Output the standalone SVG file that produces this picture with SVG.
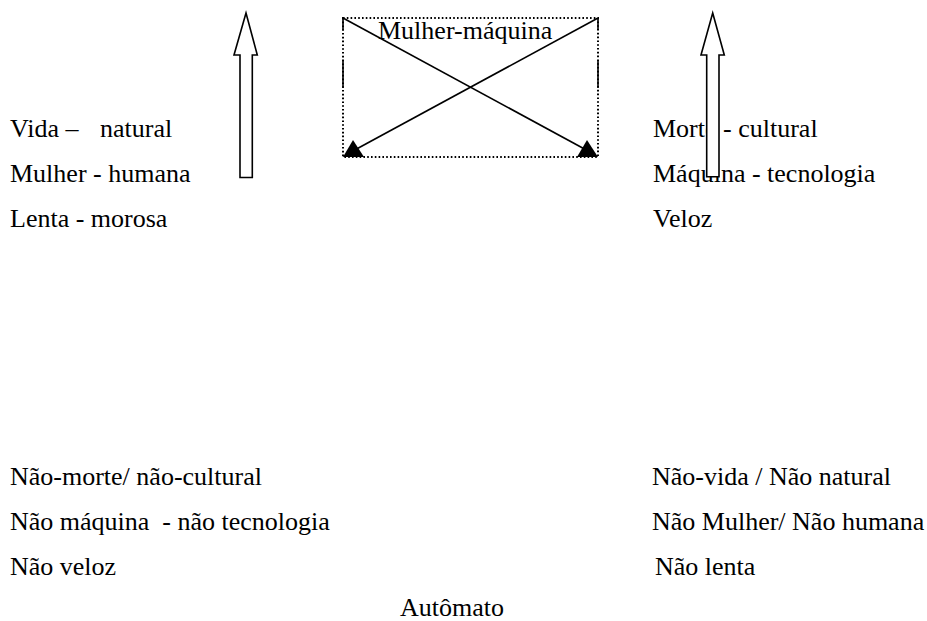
<svg xmlns="http://www.w3.org/2000/svg" width="927" height="621" viewBox="0 0 927 621">
<style>
text{font-family:"Liberation Serif","Times New Roman",serif;font-size:26px;fill:#000}
.arrow{fill:#fff;stroke:#000;stroke-width:1.6}
.dot{fill:none;stroke:#000;stroke-width:2;stroke-dasharray:1.6 2.2}
.ln{stroke:#000;stroke-width:1.6}
</style>
<rect width="927" height="621" fill="#fff"/>
<g id="left-top">
<text x="10" y="136.5">Vida –<tspan x="100">natural</tspan></text>
<text x="10" y="182">Mulher - humana</text>
<text x="10" y="227">Lenta - morosa</text>
</g>
<g id="right-top">
<text x="653" y="136.5">Morte - cultural</text>
<text x="653" y="182">Máquina - tecnologia</text>
<text x="653" y="227">Veloz</text>
</g>
<g id="left-bottom">
<text x="10" y="485">Não-morte/ não-cultural</text>
<text x="10" y="530" xml:space="preserve">Não máquina  - não tecnologia</text>
<text x="10" y="575">Não veloz</text>
</g>
<g id="right-bottom">
<text x="652" y="485">Não-vida / Não natural</text>
<text x="652" y="530">Não Mulher/ Não humana</text>
<text x="655" y="575">Não lenta</text>
</g>
<g id="automato">
<text x="400" y="616">Autômato</text>
</g>
<g id="mulher-maquina">
<rect class="dot" x="343" y="18" width="255" height="139"/>
<line class="ln" x1="343" y1="18" x2="343" y2="30"/>
<line class="ln" x1="343" y1="60" x2="343" y2="88"/>
<line class="ln" x1="598" y1="18" x2="598" y2="30"/>
<line class="ln" x1="598" y1="60" x2="598" y2="88"/>
<text x="378" y="38.5">Mulher-máquina</text>
</g>
<g id="connectors">
<line class="ln" x1="343" y1="18" x2="590" y2="152"/>
<line class="ln" x1="598" y1="18" x2="351" y2="152"/>
<polygon points="353,140 343,157 364,157" fill="#000"/>
<polygon points="587,140 577,157 598,157" fill="#000"/>
<polygon class="arrow" points="246,13 257.3,55 252.3,55 252.3,177.5 240,177.5 240,55 234,55"/>
<polygon class="arrow" points="712.7,13 724.3,55 719,55 719,176.7 706.7,176.7 706.7,55 701,55"/>
</g>
</svg>
